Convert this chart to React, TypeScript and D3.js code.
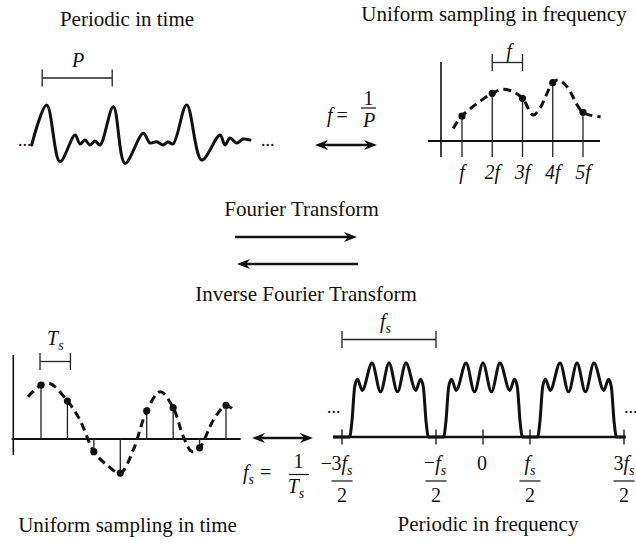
import React from "react";
import * as d3 from "d3";

const SERIF = "'Liberation Serif','Times New Roman',Times,serif";

// ---- Panel 1: periodic signal in time (t in periods, amplitude)
const timeT = [0, 0.214, 0.404, 0.619, 0.69, 0.761, 0.833, 0.904, 0.976, 1.166, 1.333, 1.594, 1.69, 1.786, 1.876, 1.947, 2.019, 2.214, 2.429, 2.69, 2.761, 2.833, 2.929, 3.019, 3.119];
const timeAmp = [0, 1.0, -0.418, 0.25, 0.025, 0.125, 0, 0.1, 0, 0.958, -0.458, 0.293, 0.05, 0.083, 0, 0.075, 0.025, 1.0, -0.375, 0.25, 0, 0.175, 0.05, 0.15, 0.125];
const periodBracket = [0.15, 1.15];

// ---- Panel 2: uniform sampling in frequency (harmonics)
const harmonicIdx = [1, 2, 3, 4, 5];
const harmonicAmp = [0.417, 0.795, 0.712, 0.972, 0.478];
const harmonicLabels = ["f", "2f", "3f", "4f", "5f"];
const specEnvX = [0.71, 1, 2, 2.36, 2.69, 3, 3.35, 3.58, 4, 4.18, 4.47, 5, 5.58];
const specEnvA = [0.21, 0.417, 0.795, 0.862, 0.82, 0.712, 0.433, 0.55, 0.972, 1.017, 0.905, 0.478, 0.405];

// ---- Panel 3: uniform sampling in time
const sampleIdx = [0, 1, 2, 3, 4, 5, 6, 7];
const sampleAmp = [0.98, 0.69, -0.23, -0.62, 0.51, 0.57, -0.16, 0.61];
const timeEnvX = [-0.49, 0, 0.34, 1, 1.47, 2, 2.49, 3, 3.49, 4, 4.51, 5, 5.39, 5.71, 6, 6.53, 7, 7.35];
const timeEnvA = [0.77, 0.98, 1.01, 0.69, 0.35, -0.23, -0.47, -0.62, -0.2, 0.51, 0.86, 0.57, 0.04, -0.23, -0.16, 0.35, 0.61, 0.5];

// ---- Panel 4: periodic in frequency (units of fs/2)
const bandOffset = [-1, -0.84, -0.79, -0.73, -0.67, -0.57, -0.36, -0.18, 0, 0.18, 0.36, 0.57, 0.67, 0.73, 0.79, 0.84];
const bandAmp = [0, 0, 0.2, 0.68, 0.78, 0.63, 1, 0.61, 1, 0.61, 1, 0.63, 0.78, 0.68, 0.2, 0];
const replicaCenters = [-2, 0, 2];
const freqDomain = [-3.19, 3.04];
const freqTicks = [-3, -1, 0, 1, 3];

function Head({ x, y, dir }: { x: number; y: number; dir: number }) {
  const L = 13, Wd = 5, N = 4;
  return (
    <polygon
      points={`${x},${y} ${x - dir * L},${y - Wd} ${x - dir * (L - N)},${y} ${x - dir * L},${y + Wd}`}
      fill="#111"
    />
  );
}

function Arrow({ x1, x2, y, left, right }: { x1: number; x2: number; y: number; left?: boolean; right?: boolean }) {
  const inset = 9;
  return (
    <g>
      <line x1={left ? x1 + inset : x1} x2={right ? x2 - inset : x2} y1={y} y2={y} stroke="#111" strokeWidth={2.6} />
      {left && <Head x={x1} y={y} dir={-1} />}
      {right && <Head x={x2} y={y} dir={1} />}
    </g>
  );
}

function Bracket({ x1, x2, y }: { x1: number; x2: number; y: number }) {
  return (
    <g stroke="#222" strokeWidth={1.3}>
      <line x1={x1} x2={x2} y1={y} y2={y} />
      <line x1={x1} x2={x1} y1={y - 8.5} y2={y + 8.5} />
      <line x1={x2} x2={x2} y1={y - 8.5} y2={y + 8.5} />
    </g>
  );
}

export default function App() {
  const p1x = d3.scaleLinear().domain([0, 1]).range([31.7, 101.7]);
  const p1y = d3.scaleLinear().domain([0, 1]).range([145, 105]);
  const p2x = d3.scaleLinear().domain([1, 5]).range([462, 583]);
  const p2y = d3.scaleLinear().domain([0, 1]).range([141, 81]);
  const p3x = d3.scaleLinear().domain([0, 7]).range([41, 226]);
  const p3y = d3.scaleLinear().domain([-1, 1]).range([494, 384]);
  const p4x = d3.scaleLinear().domain([-3, 3]).range([342, 624]);
  const p4y = d3.scaleLinear().domain([0, 1]).range([437, 363]);

  const smooth = d3.line<[number, number]>().curve(d3.curveCatmullRom.alpha(0.5));
  const mono = d3.line<[number, number]>().curve(d3.curveMonotoneX);

  const p1Path = smooth(timeT.map((t, i) => [p1x(t), p1y(timeAmp[i])]));
  const p2Path = smooth(specEnvX.map((x, i) => [p2x(x), p2y(specEnvA[i])]));
  const p3Path = smooth(timeEnvX.map((x, i) => [p3x(x), p3y(timeEnvA[i])]));

  const bandPts: [number, number][] = [[freqDomain[0], 0]];
  replicaCenters.forEach((c) => bandOffset.forEach((o, i) => bandPts.push([c + o, bandAmp[i]])));
  bandPts.push([replicaCenters[replicaCenters.length - 1] + 1, 0]);
  bandPts.push([freqDomain[1], 0]);
  const p4Path = mono(bandPts.map(([f, a]) => [p4x(f), p4y(a)]));

  const txt = { fontFamily: SERIF, fill: "#111" } as const;
  const sub = (s: string) => (
    <tspan fontSize={14} dy={4.5} fontStyle="italic">{s}</tspan>
  );

  const p2Axis = { x: 441, top: 62, bottom: 157, left: 428, right: 600 };
  const p3Axis = { x: 13.3, top: 355, bottom: 455, left: 11.7, right: 240.7 };
  const p4Axis = { left: 333, right: 625 };

  return (
    <svg width={636} height={545} style={{ position: "absolute", left: 0, top: 0, background: "#fff" }}>
      {/* Titles */}
      <text x={127} y={26} textAnchor="middle" fontSize={21} {...txt}>Periodic in time</text>
      <text x={494} y={21} textAnchor="middle" fontSize={21} {...txt}>Uniform sampling in frequency</text>
      <text x={301.5} y={216} textAnchor="middle" fontSize={21} {...txt}>Fourier Transform</text>
      <text x={306} y={301} textAnchor="middle" fontSize={21} {...txt}>Inverse Fourier Transform</text>
      <text x={127.5} y={532} textAnchor="middle" fontSize={21} {...txt}>Uniform sampling in time</text>
      <text x={488} y={531} textAnchor="middle" fontSize={21} {...txt}>Periodic in frequency</text>

      {/* Panel 1 */}
      <text x={78} y={67} textAnchor="middle" fontSize={20} fontStyle="italic" {...txt}>P</text>
      <Bracket x1={p1x(periodBracket[0])} x2={p1x(periodBracket[1])} y={78} />
      <path d={p1Path || ""} fill="none" stroke="#111" strokeWidth={3} strokeLinejoin="round" strokeLinecap="round" />
      <text x={18} y={146} fontSize={18} {...txt}>...</text>
      <text x={261} y={146} fontSize={18} {...txt}>...</text>

      {/* f = 1/P */}
      <text x={327} y={122} fontSize={20} {...txt}>
        <tspan fontStyle="italic">f</tspan>
        <tspan dx={4}>=</tspan>
      </text>
      <text x={368.5} y={105} textAnchor="middle" fontSize={20} {...txt}>1</text>
      <line x1={361} x2={376} y1={108} y2={108} stroke="#111" strokeWidth={1.2} />
      <text x={369} y={127} textAnchor="middle" fontSize={20} fontStyle="italic" {...txt}>P</text>
      <Arrow x1={315} x2={377} y={145} left right />

      {/* Panel 2 */}
      <line x1={p2Axis.x} x2={p2Axis.x} y1={p2Axis.top} y2={p2Axis.bottom} stroke="#111" strokeWidth={1.6} />
      <line x1={p2Axis.left} x2={p2Axis.right} y1={p2y(0)} y2={p2y(0)} stroke="#111" strokeWidth={1.8} />
      {harmonicIdx.map((n, i) => (
        <g key={n}>
          <line x1={p2x(n)} x2={p2x(n)} y1={p2y(harmonicAmp[i])} y2={p2Axis.bottom} stroke="#222" strokeWidth={1.3} />
          <text x={p2x(n)} y={179} textAnchor="middle" fontSize={20} fontStyle="italic" {...txt}>{harmonicLabels[i]}</text>
        </g>
      ))}
      <path d={p2Path || ""} fill="none" stroke="#111" strokeWidth={3} strokeDasharray="8,5" />
      {harmonicIdx.map((n, i) => (
        <circle key={n} cx={p2x(n)} cy={p2y(harmonicAmp[i])} r={3.6} fill="#111" />
      ))}
      <Bracket x1={p2x(2)} x2={p2x(3)} y={62.5} />
      <text x={509} y={58} textAnchor="middle" fontSize={20} fontStyle="italic" {...txt}>f</text>

      {/* Middle arrows */}
      <Arrow x1={235} x2={357} y={237} right />
      <Arrow x1={237} x2={358} y={264} left />

      {/* Panel 3 */}
      <text x={47} y={345} fontSize={20} {...txt}>
        <tspan fontStyle="italic">T</tspan>
        {sub("s")}
      </text>
      <Bracket x1={p3x(0) - 1} x2={p3x(1) + 3} y={361.5} />
      <line x1={p3Axis.x} x2={p3Axis.x} y1={p3Axis.top} y2={p3Axis.bottom} stroke="#111" strokeWidth={1.6} />
      <line x1={p3Axis.left} x2={p3Axis.right} y1={p3y(0)} y2={p3y(0)} stroke="#111" strokeWidth={1.8} />
      {sampleIdx.map((n, i) => (
        <line key={n} x1={p3x(n)} x2={p3x(n)} y1={p3y(0)} y2={p3y(sampleAmp[i])} stroke="#222" strokeWidth={1.3} />
      ))}
      <path d={p3Path || ""} fill="none" stroke="#111" strokeWidth={3} strokeDasharray="8,5" />
      {sampleIdx.map((n, i) => (
        <circle key={n} cx={p3x(n)} cy={p3y(sampleAmp[i])} r={3.6} fill="#111" />
      ))}

      {/* fs = 1/Ts */}
      <Arrow x1={252} x2={313} y={438} left right />
      <text x={243} y={479} fontSize={20} {...txt}>
        <tspan fontStyle="italic">f</tspan>
        {sub("s")}
        <tspan dy={-4.5} dx={6}>=</tspan>
      </text>
      <text x={298.5} y={468} textAnchor="middle" fontSize={20} {...txt}>1</text>
      <line x1={289} x2={309} y1={474.5} y2={474.5} stroke="#111" strokeWidth={1.2} />
      <text x={296} y={493} textAnchor="middle" fontSize={20} {...txt}>
        <tspan fontStyle="italic">T</tspan>
        {sub("s")}
      </text>

      {/* Panel 4 */}
      <text x={380} y={328} fontSize={20} {...txt}>
        <tspan fontStyle="italic">f</tspan>
        {sub("s")}
      </text>
      <Bracket x1={p4x(-3)} x2={p4x(-1)} y={339.5} />
      <line x1={p4Axis.left} x2={p4Axis.right} y1={p4y(0)} y2={p4y(0)} stroke="#111" strokeWidth={2.6} />
      {freqTicks.map((t) => (
        <line key={t} x1={p4x(t)} x2={p4x(t)} y1={p4y(0) - 7.5} y2={p4y(0) + 7.5} stroke="#222" strokeWidth={1.4} />
      ))}
      <path d={p4Path || ""} fill="none" stroke="#111" strokeWidth={3} strokeLinejoin="round" />
      <text x={327} y={413} fontSize={18} {...txt}>...</text>
      <text x={624} y={413} fontSize={18} {...txt}>...</text>

      {/* Frequency tick labels */}
      {freqTicks.map((t) => {
        const x = p4x(t);
        if (t === 0) {
          return <text key={t} x={x - 1} y={470} textAnchor="middle" fontSize={20} {...txt}>0</text>;
        }
        const k = Math.abs(t);
        const neg = t < 0;
        return (
          <g key={t}>
            {neg && k === 3 && (
              <text x={x - 10} y={470} textAnchor="end" fontSize={20} {...txt}>−</text>
            )}
            <text x={neg && k === 1 ? x - 1 : x} y={470} textAnchor="middle" fontSize={20} {...txt}>
              {neg && k === 1 && <tspan dy={-1}>−</tspan>}
              {k === 3 && <tspan>3</tspan>}
              <tspan fontStyle="italic" dy={neg && k === 1 ? 1 : 0}>f</tspan>
              {sub("s")}
            </text>
            <line x1={x - 10.5} x2={x + 10.5} y1={481} y2={481} stroke="#111" strokeWidth={1.2} />
            <text x={x} y={502} textAnchor="middle" fontSize={20} {...txt}>2</text>
          </g>
        );
      })}
    </svg>
  );
}
